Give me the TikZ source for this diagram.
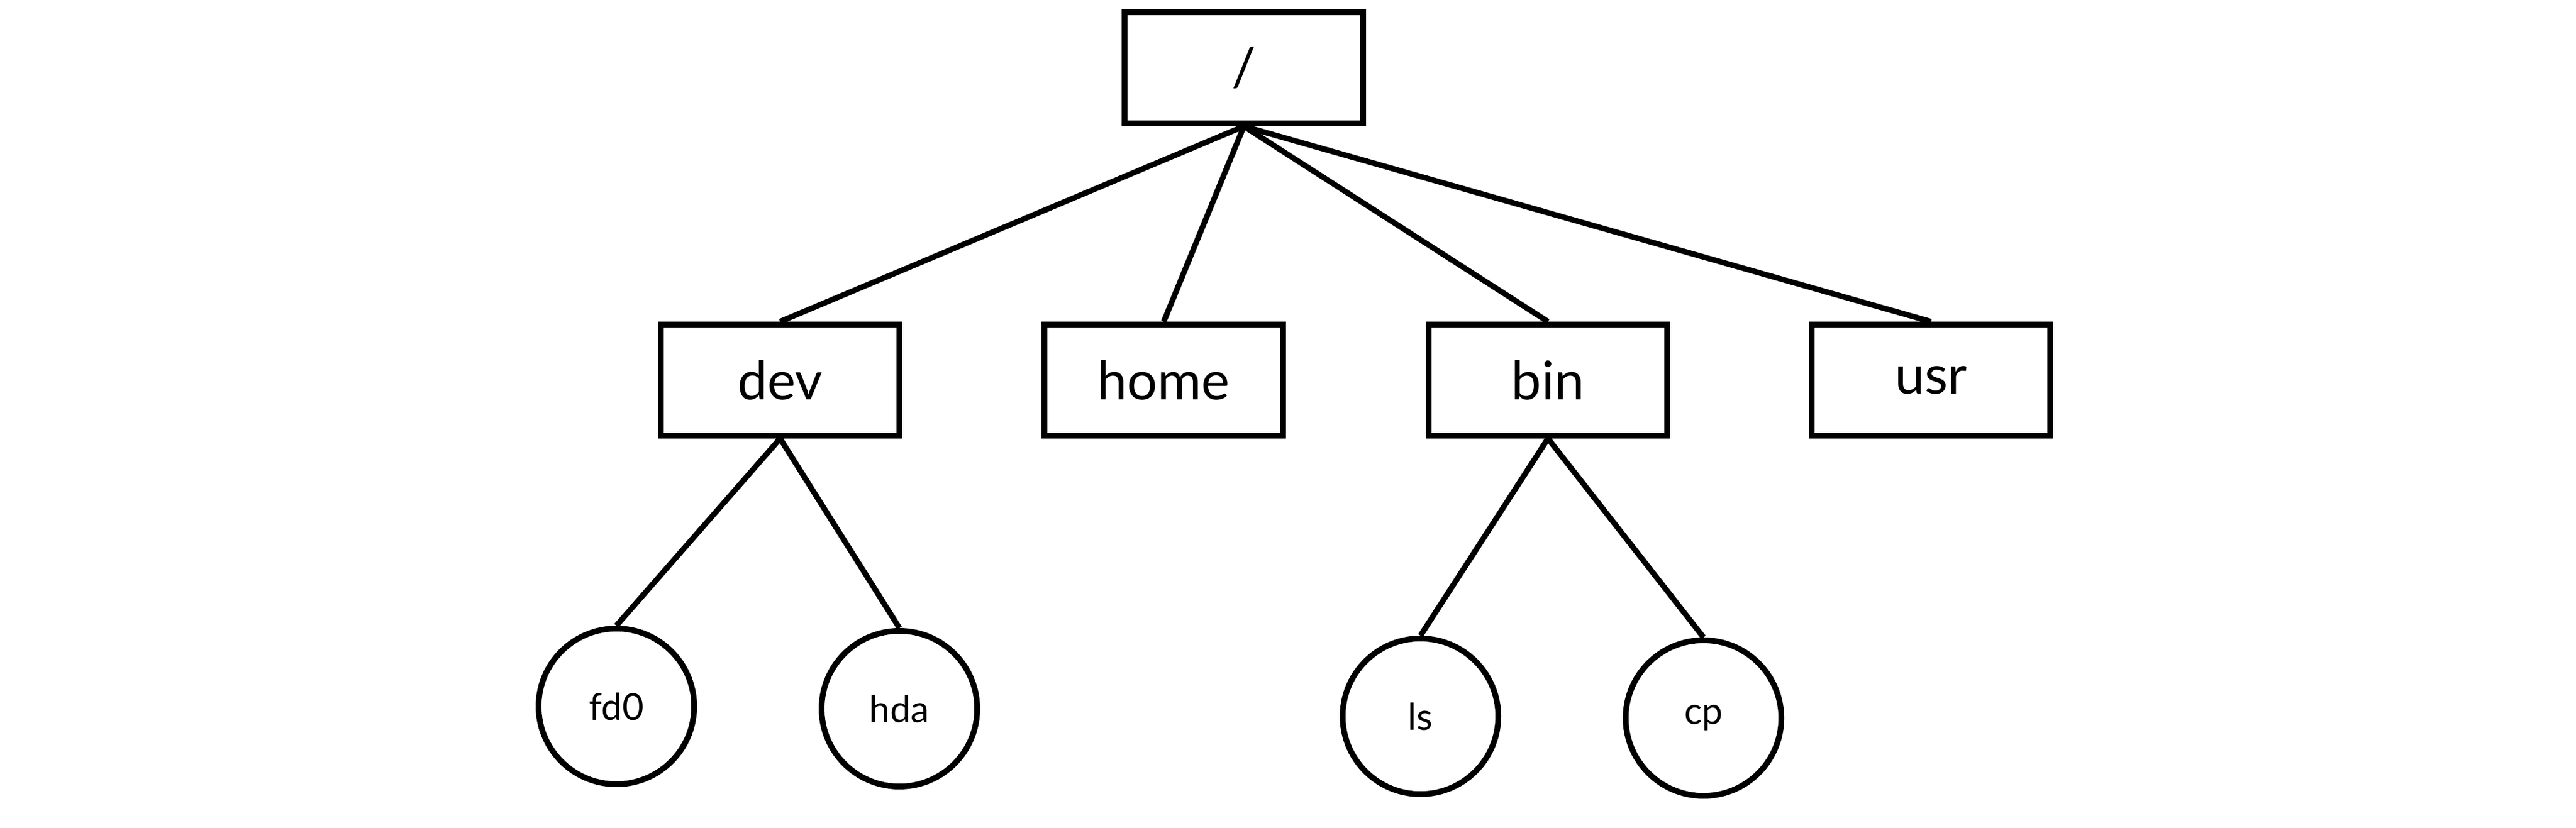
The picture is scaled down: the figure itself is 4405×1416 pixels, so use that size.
\documentclass[tikz,border=0pt]{standalone}
\usepackage{fontspec}
\setmainfont{Lato}
\begin{document}
\begin{tikzpicture}[x=0.01cm,y=-0.01cm,
  dirbox/.style={draw=black,line width=2.8pt,rectangle,minimum width=4.08cm,minimum height=1.90cm,inner sep=0pt,font=\fontsize{26}{30}\selectfont},
  filenode/.style={draw=black,line width=2.8pt,circle,minimum size=2.66cm,inner sep=0pt,font=\fontsize{18}{22}\selectfont},
  edge/.style={line width=2.7pt}]
\useasboundingbox (0,0) rectangle (4405,1416);
\node[dirbox] (root) at (2127,116) {/};
\node[dirbox] (dev) at (1334,650) {dev};
\node[dirbox] (home) at (1990,650) {home};
\node[dirbox] (bin) at (2647,650) {bin};
\node[dirbox] (usr) at (3302,650) {usr};
\node[filenode] (fd0) at (1054,1208) {fd0};
\node[filenode] (hda) at (1538,1212) {hda};
\node[filenode] (ls) at (2429,1225) {ls};
\node[filenode] (cp) at (2913,1228) {cp};
\draw[edge] (root.south) -- (dev.north);
\draw[edge] (root.south) -- (home.north);
\draw[edge] (root.south) -- (bin.north);
\draw[edge] (root.south) -- (usr.north);
\draw[edge] (dev.south) -- (fd0.north);
\draw[edge] (dev.south) -- (hda.north);
\draw[edge] (bin.south) -- (ls.north);
\draw[edge] (bin.south) -- (cp.north);
\end{tikzpicture}
\end{document}
